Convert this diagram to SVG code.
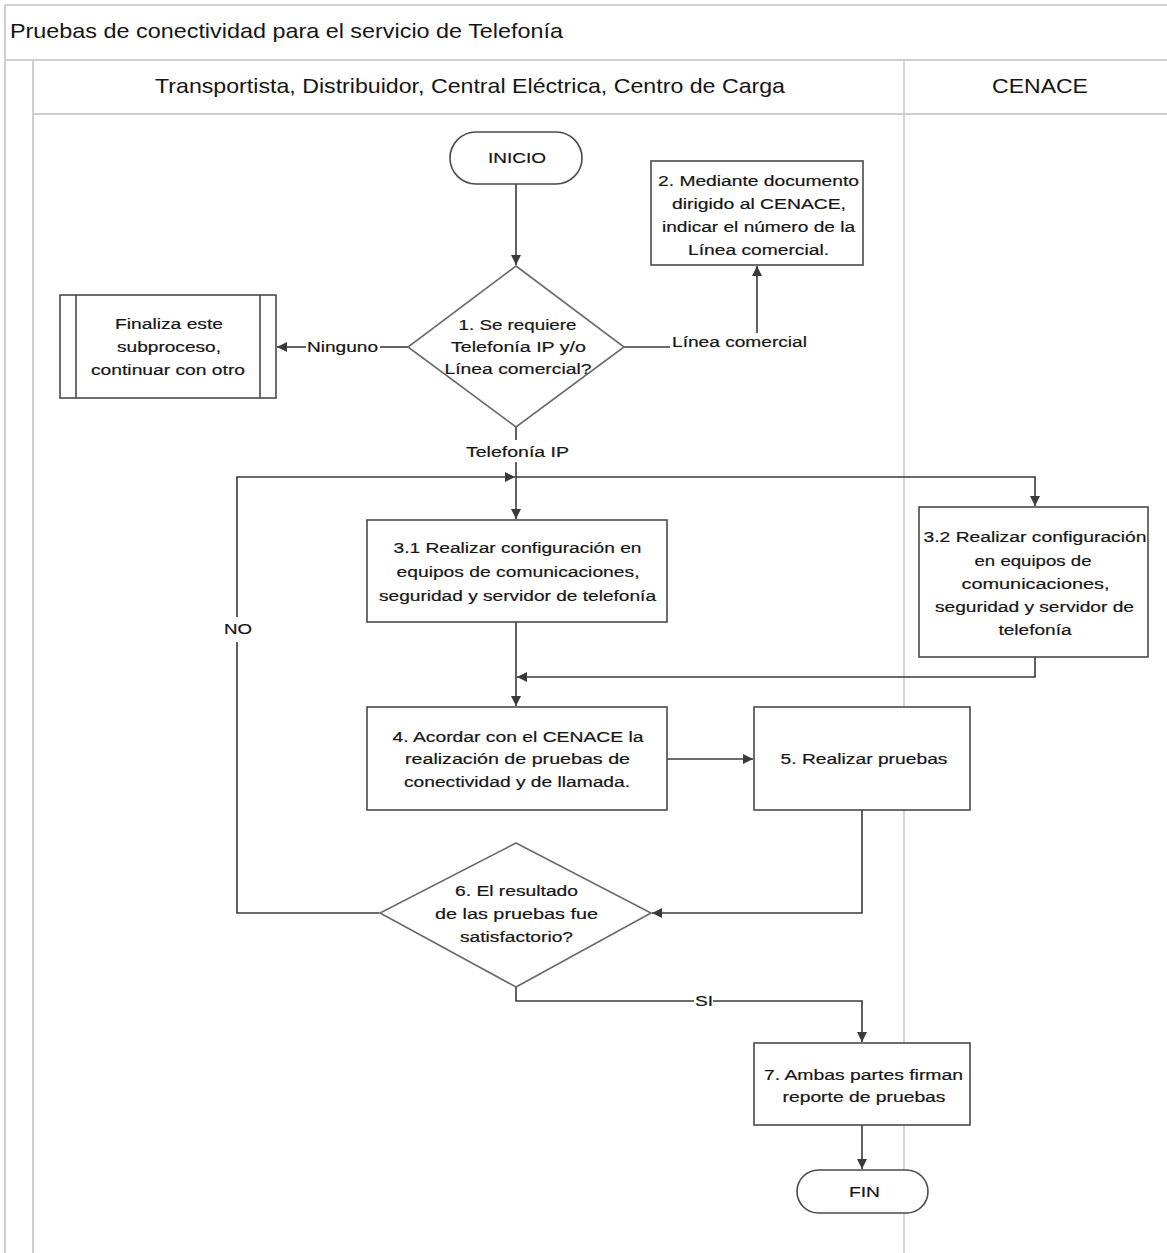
<svg xmlns="http://www.w3.org/2000/svg" width="1167" height="1253" viewBox="0 0 1167 1253">
<defs>
<style>
.frame{fill:none;stroke:#cfcfcf;stroke-width:2}
.lane{fill:none;stroke:#c8c8c8;stroke-width:1.5}
.box{fill:#fff;stroke:#4a4a4a;stroke-width:1.6}
.dia{fill:#fff;stroke:#6a6a6a;stroke-width:1.6}
.con{fill:none;stroke:#3a3a3a;stroke-width:1.6}
text{font-family:"Liberation Sans",Arial,sans-serif;fill:#151515}
.t{font-size:15.5px;text-anchor:middle;stroke:#151515;stroke-width:0.2}
.h{font-size:21px;text-anchor:middle}
.lbl{font-size:15.5px;text-anchor:middle;stroke:#151515;stroke-width:0.2}
</style>
<marker id="arr" viewBox="0 0 10 10" refX="10" refY="5" markerWidth="10" markerHeight="10" markerUnits="userSpaceOnUse" orient="auto">
<path d="M0,0 L10,5 L0,10 z" fill="#3a3a3a"/>
</marker>
</defs>
<rect width="1167" height="1253" fill="#fff"/>
<g id="frame">
<line class="frame" x1="5" y1="5" x2="1167" y2="5"/>
<line class="frame" x1="5" y1="5" x2="5" y2="1253"/>
<line class="frame" x1="5" y1="60" x2="1167" y2="60"/>
<line class="frame" x1="33" y1="60" x2="33" y2="1253"/>
<line class="frame" x1="33" y1="114" x2="1167" y2="114"/>
<line class="lane" x1="904" y1="60" x2="904" y2="1253"/>
<text x="10" y="38" style="font-size:21px" textLength="553" lengthAdjust="spacingAndGlyphs">Pruebas de conectividad para el servicio de Telefonía</text>
<text class="h" x="470" y="93" textLength="630" lengthAdjust="spacingAndGlyphs">Transportista, Distribuidor, Central Eléctrica, Centro de Carga</text>
<text class="h" x="1040" y="93" textLength="96" lengthAdjust="spacingAndGlyphs">CENACE</text>
</g>
<g id="connectors">
<line class="con" x1="516" y1="184" x2="516" y2="265" marker-end="url(#arr)"/>
<polyline class="con" points="408,347 380,347"/>
<line class="con" x1="306" y1="347" x2="277" y2="347" marker-end="url(#arr)"/>
<polyline class="con" points="624,347 670,347"/>
<line class="con" x1="757" y1="333" x2="757" y2="266" marker-end="url(#arr)"/>
<line class="con" x1="516" y1="427" x2="516" y2="440"/>
<line class="con" x1="516" y1="462" x2="516" y2="519" marker-end="url(#arr)"/>
<polyline class="con" points="516,477 1035,477 1035,506" marker-end="url(#arr)"/>
<polyline class="con" points="379,913 237,913 237,642"/>
<polyline class="con" points="237,617 237,477 515,477" marker-end="url(#arr)"/>
<line class="con" x1="516" y1="622" x2="516" y2="706" marker-end="url(#arr)"/>
<polyline class="con" points="1035,657 1035,677 517,677" marker-end="url(#arr)"/>
<line class="con" x1="667" y1="759" x2="753" y2="759" marker-end="url(#arr)"/>
<polyline class="con" points="862,810 862,913 652,913" marker-end="url(#arr)"/>
<polyline class="con" points="516,987 516,1001 694,1001"/>
<polyline class="con" points="713,1001 862,1001 862,1042" marker-end="url(#arr)"/>
<line class="con" x1="862" y1="1125" x2="862" y2="1169" marker-end="url(#arr)"/>
<text class="lbl" x="342.5" y="352" textLength="71" lengthAdjust="spacingAndGlyphs">Ninguno</text>
<text class="lbl" x="739.5" y="347" textLength="135" lengthAdjust="spacingAndGlyphs">Línea comercial</text>
<text class="lbl" x="517.5" y="457" textLength="103" lengthAdjust="spacingAndGlyphs">Telefonía IP</text>
<text class="lbl" x="238" y="634" textLength="28" lengthAdjust="spacingAndGlyphs">NO</text>
<text class="lbl" x="704" y="1006" textLength="18" lengthAdjust="spacingAndGlyphs">SI</text>
</g>
<g id="inicio">
<rect class="box" x="450" y="132" width="132" height="52" rx="26"/>
<text class="t" x="517" y="163" textLength="58" lengthAdjust="spacingAndGlyphs">INICIO</text>
</g>
<g id="decision1">
<polygon class="dia" points="516,266 624,347 516,427 408,347"/>
<text class="t" x="517.5" y="330" textLength="118" lengthAdjust="spacingAndGlyphs">1. Se requiere</text>
<text class="t" x="518.5" y="352" textLength="135" lengthAdjust="spacingAndGlyphs">Telefonía IP y/o</text>
<text class="t" x="518" y="374" textLength="147" lengthAdjust="spacingAndGlyphs">Línea comercial?</text>
</g>
<g id="subproceso">
<rect class="box" x="60" y="295" width="216" height="103"/>
<line class="box" x1="76" y1="295" x2="76" y2="398"/>
<line class="box" x1="260" y1="295" x2="260" y2="398"/>
<text class="t" x="169" y="329" textLength="108" lengthAdjust="spacingAndGlyphs">Finaliza este</text>
<text class="t" x="169" y="352" textLength="104" lengthAdjust="spacingAndGlyphs">subproceso,</text>
<text class="t" x="168" y="375" textLength="154" lengthAdjust="spacingAndGlyphs">continuar con otro</text>
</g>
<g id="paso2">
<rect class="box" x="651" y="161" width="212" height="104"/>
<text class="t" x="758.5" y="186" textLength="201" lengthAdjust="spacingAndGlyphs">2. Mediante documento</text>
<text class="t" x="759" y="209" textLength="174" lengthAdjust="spacingAndGlyphs">dirigido al CENACE,</text>
<text class="t" x="758.5" y="232" textLength="193" lengthAdjust="spacingAndGlyphs">indicar el número de la</text>
<text class="t" x="758.5" y="255" textLength="141" lengthAdjust="spacingAndGlyphs">Línea comercial.</text>
</g>
<g id="paso31">
<rect class="box" x="367" y="520" width="300" height="102"/>
<text class="t" x="517.5" y="553" textLength="248" lengthAdjust="spacingAndGlyphs">3.1 Realizar configuración en</text>
<text class="t" x="518" y="577" textLength="243" lengthAdjust="spacingAndGlyphs">equipos de comunicaciones,</text>
<text class="t" x="517.5" y="601" textLength="277" lengthAdjust="spacingAndGlyphs">seguridad y servidor de telefonía</text>
</g>
<g id="paso32">
<rect class="box" x="919" y="507" width="229" height="150"/>
<text class="t" x="1035" y="542" textLength="223" lengthAdjust="spacingAndGlyphs">3.2 Realizar configuración</text>
<text class="t" x="1033" y="566" textLength="117" lengthAdjust="spacingAndGlyphs">en equipos de</text>
<text class="t" x="1035.5" y="589" textLength="148" lengthAdjust="spacingAndGlyphs">comunicaciones,</text>
<text class="t" x="1034.5" y="612" textLength="199" lengthAdjust="spacingAndGlyphs">seguridad y servidor de</text>
<text class="t" x="1035" y="635" textLength="73" lengthAdjust="spacingAndGlyphs">telefonía</text>
</g>
<g id="paso4">
<rect class="box" x="367" y="707" width="300" height="103"/>
<text class="t" x="518" y="742" textLength="251" lengthAdjust="spacingAndGlyphs">4. Acordar con el CENACE la</text>
<text class="t" x="517.5" y="764" textLength="225" lengthAdjust="spacingAndGlyphs">realización de  pruebas de</text>
<text class="t" x="517" y="787" textLength="226" lengthAdjust="spacingAndGlyphs">conectividad y de llamada.</text>
</g>
<g id="paso5">
<rect class="box" x="754" y="707" width="216" height="103"/>
<text class="t" x="864" y="764" textLength="167" lengthAdjust="spacingAndGlyphs">5. Realizar pruebas</text>
</g>
<g id="decision6">
<polygon class="dia" points="516,843 651,913 516,987 380,913"/>
<text class="t" x="516.5" y="896" textLength="123" lengthAdjust="spacingAndGlyphs">6. El resultado</text>
<text class="t" x="516.5" y="919" textLength="163" lengthAdjust="spacingAndGlyphs">de las pruebas  fue</text>
<text class="t" x="516.5" y="942" textLength="113" lengthAdjust="spacingAndGlyphs">satisfactorio?</text>
</g>
<g id="paso7">
<rect class="box" x="754" y="1043" width="216" height="82"/>
<text class="t" x="863.5" y="1080" textLength="199" lengthAdjust="spacingAndGlyphs">7. Ambas partes firman</text>
<text class="t" x="864" y="1102" textLength="163" lengthAdjust="spacingAndGlyphs">reporte de pruebas</text>
</g>
<g id="fin">
<rect class="box" x="797" y="1170" width="131" height="43" rx="21.5"/>
<text class="t" x="864.5" y="1197" textLength="31" lengthAdjust="spacingAndGlyphs">FIN</text>
</g>
</svg>
